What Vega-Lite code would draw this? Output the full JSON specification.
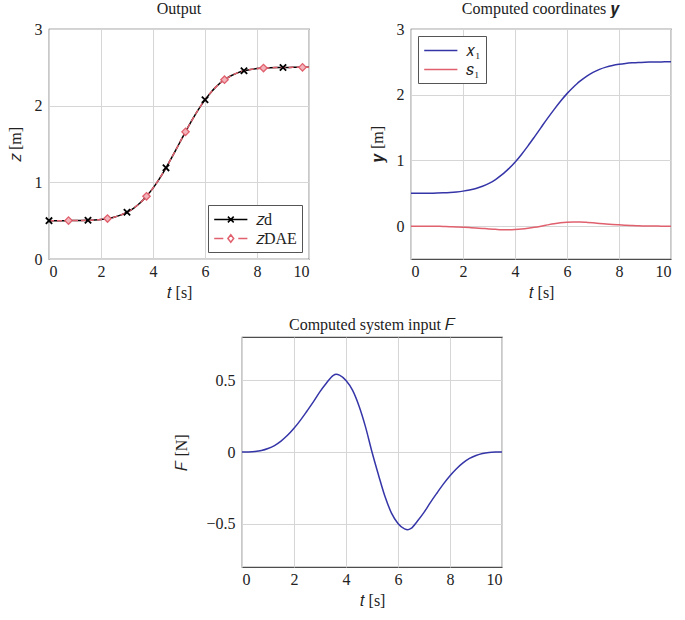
{
  "$schema": "https://vega.github.io/schema/vega-lite/v6.json",
  "padding": {"left": 6, "top": 0, "right": 5, "bottom": 3},
  "background": "white",
  "config": {
    "font": "Liberation Serif",
    "view": {"stroke": "#4d4d4d", "strokeWidth": 1.2},
    "axis": {
      "domain": false, "ticks": false, "grid": true, "gridColor": "#d6d6d6", "gridWidth": 1,
      "labelFont": "Liberation Serif", "labelFontSize": 16, "labelColor": "#222",
      "titleFont": "Liberation Serif", "titleFontSize": 16, "titleFontWeight": "normal", "titleColor": "#222"
    },
    "axisX": {"labelPadding": 4, "titlePadding": 5},
    "axisY": {"labelPadding": 7, "titlePadding": 11},
    "title": {"font": "Liberation Serif", "fontSize": 16, "fontWeight": "normal", "color": "#222", "offset": 4},
    "legend": {"labelFont": "Liberation Serif", "labelFontSize": 16, "labelColor": "#222"}
  },
  "datasets": {
    "curves": [
      {"t": 0, "zd": 0.5, "zdae": 0.5, "x1": 0.5, "s1": 0, "F": 0},
      {"t": 0.25, "zd": 0.5, "zdae": 0.5, "x1": 0.5, "s1": 0, "F": 0.0005},
      {"t": 0.5, "zd": 0.5003, "zdae": 0.5003, "x1": 0.5006, "s1": -0.0003, "F": 0.003},
      {"t": 0.75, "zd": 0.5007, "zdae": 0.5007, "x1": 0.5017, "s1": -0.001, "F": 0.01},
      {"t": 1, "zd": 0.5014, "zdae": 0.5014, "x1": 0.5038, "s1": -0.0024, "F": 0.024},
      {"t": 1.25, "zd": 0.5027, "zdae": 0.5027, "x1": 0.5072, "s1": -0.0045, "F": 0.045},
      {"t": 1.5, "zd": 0.5051, "zdae": 0.5051, "x1": 0.5127, "s1": -0.0076, "F": 0.076},
      {"t": 1.75, "zd": 0.5093, "zdae": 0.5093, "x1": 0.5209, "s1": -0.0116, "F": 0.116},
      {"t": 2, "zd": 0.5164, "zdae": 0.5164, "x1": 0.5329, "s1": -0.0165, "F": 0.165},
      {"t": 2.25, "zd": 0.5278, "zdae": 0.5278, "x1": 0.55, "s1": -0.0222, "F": 0.222},
      {"t": 2.5, "zd": 0.5455, "zdae": 0.5455, "x1": 0.574, "s1": -0.0285, "F": 0.285},
      {"t": 2.75, "zd": 0.5718, "zdae": 0.5718, "x1": 0.6068, "s1": -0.035, "F": 0.35},
      {"t": 3, "zd": 0.6096, "zdae": 0.6096, "x1": 0.6516, "s1": -0.042, "F": 0.42},
      {"t": 3.25, "zd": 0.6616, "zdae": 0.6616, "x1": 0.7096, "s1": -0.048, "F": 0.48},
      {"t": 3.5, "zd": 0.7302, "zdae": 0.7302, "x1": 0.7834, "s1": -0.0532, "F": 0.532},
      {"t": 3.625, "zd": 0.7714, "zdae": 0.7714, "x1": 0.8255, "s1": -0.0541, "F": 0.541},
      {"t": 3.75, "zd": 0.8174, "zdae": 0.8174, "x1": 0.8709, "s1": -0.0535, "F": 0.535},
      {"t": 4, "zd": 0.9238, "zdae": 0.9238, "x1": 0.9735, "s1": -0.0497, "F": 0.497},
      {"t": 4.25, "zd": 1.0486, "zdae": 1.0486, "x1": 1.0916, "s1": -0.043, "F": 0.43},
      {"t": 4.5, "zd": 1.1892, "zdae": 1.1892, "x1": 1.2212, "s1": -0.032, "F": 0.32},
      {"t": 4.75, "zd": 1.3414, "zdae": 1.3414, "x1": 1.3589, "s1": -0.0175, "F": 0.175},
      {"t": 5, "zd": 1.5, "zdae": 1.5, "x1": 1.5, "s1": 0, "F": 0},
      {"t": 5.25, "zd": 1.6586, "zdae": 1.6586, "x1": 1.6396, "s1": 0.0192, "F": -0.16},
      {"t": 5.5, "zd": 1.8108, "zdae": 1.8108, "x1": 1.7736, "s1": 0.0372, "F": -0.31},
      {"t": 5.75, "zd": 1.9514, "zdae": 1.9514, "x1": 1.9004, "s1": 0.051, "F": -0.425},
      {"t": 6, "zd": 2.0762, "zdae": 2.0762, "x1": 2.0166, "s1": 0.0596, "F": -0.497},
      {"t": 6.25, "zd": 2.1826, "zdae": 2.1826, "x1": 2.1184, "s1": 0.0642, "F": -0.535},
      {"t": 6.375, "zd": 2.2286, "zdae": 2.2286, "x1": 2.1637, "s1": 0.0649, "F": -0.541},
      {"t": 6.5, "zd": 2.2698, "zdae": 2.2698, "x1": 2.206, "s1": 0.0638, "F": -0.532},
      {"t": 6.75, "zd": 2.3384, "zdae": 2.3384, "x1": 2.2808, "s1": 0.0576, "F": -0.48},
      {"t": 7, "zd": 2.3904, "zdae": 2.3904, "x1": 2.34, "s1": 0.0504, "F": -0.42},
      {"t": 7.25, "zd": 2.4282, "zdae": 2.4282, "x1": 2.3862, "s1": 0.042, "F": -0.35},
      {"t": 7.5, "zd": 2.4545, "zdae": 2.4545, "x1": 2.4203, "s1": 0.0342, "F": -0.285},
      {"t": 7.75, "zd": 2.4722, "zdae": 2.4722, "x1": 2.4456, "s1": 0.0266, "F": -0.222},
      {"t": 8, "zd": 2.4836, "zdae": 2.4836, "x1": 2.4638, "s1": 0.0198, "F": -0.165},
      {"t": 8.25, "zd": 2.4907, "zdae": 2.4907, "x1": 2.4768, "s1": 0.0139, "F": -0.116},
      {"t": 8.5, "zd": 2.4949, "zdae": 2.4949, "x1": 2.4858, "s1": 0.0091, "F": -0.076},
      {"t": 8.75, "zd": 2.4974, "zdae": 2.4974, "x1": 2.492, "s1": 0.0054, "F": -0.045},
      {"t": 9, "zd": 2.4986, "zdae": 2.4986, "x1": 2.4957, "s1": 0.0029, "F": -0.024},
      {"t": 9.25, "zd": 2.4993, "zdae": 2.4993, "x1": 2.4981, "s1": 0.0012, "F": -0.01},
      {"t": 9.5, "zd": 2.4997, "zdae": 2.4997, "x1": 2.4993, "s1": 0.0004, "F": -0.003},
      {"t": 9.75, "zd": 2.4999, "zdae": 2.4999, "x1": 2.4998, "s1": 0.0001, "F": -0.0005},
      {"t": 10, "zd": 2.5, "zdae": 2.5, "x1": 2.5, "s1": 0, "F": 0}
    ]
  },
  "vconcat": [
    {
      "hconcat": [
        {
          "width": 260, "height": 230,
          "title": "Output",
          "data": {"name": "curves"},
          "encoding": {
            "x": {"field": "t", "type": "quantitative", "scale": {"domain": [0, 10], "nice": false}, "axis": {"values": [0, 2, 4, 6, 8, 10], "title": "𝑡 [s]"}}
          },
          "layer": [
            {
              "mark": {"type": "line", "color": "#000000", "strokeWidth": 1.5, "interpolate": "monotone"},
              "encoding": {"y": {"field": "zd", "type": "quantitative", "scale": {"domain": [0, 3], "nice": false}, "axis": {"values": [0, 1, 2, 3], "title": "𝑧 [m]"}}}
            },
            {
              "mark": {"type": "line", "color": "#e0606e", "strokeWidth": 1.5, "strokeDash": [5, 3], "interpolate": "monotone"},
              "encoding": {"y": {"field": "zdae", "type": "quantitative", "axis": {"values": [0, 1, 2, 3], "title": "𝑧 [m]"}}}
            },
            {
              "transform": [{"filter": {"field": "t", "oneOf": [0, 1.5, 3, 4.5, 6, 7.5, 9]}}],
              "mark": {"type": "point", "shape": "M-1,-1L1,1M-1,1L1,-1", "size": 40, "filled": false, "stroke": "#000000", "strokeWidth": 1.8, "opacity": 1},
              "encoding": {"y": {"field": "zd", "type": "quantitative", "axis": {"values": [0, 1, 2, 3], "title": "𝑧 [m]"}}}
            },
            {
              "transform": [{"filter": {"field": "t", "oneOf": [0.75, 2.25, 3.75, 5.25, 6.75, 8.25, 9.75]}}],
              "mark": {"type": "point", "shape": "diamond", "size": 55, "filled": true, "fill": "#f2b3ba", "stroke": "#e0606e", "strokeWidth": 1.3, "opacity": 1},
              "encoding": {"y": {"field": "zdae", "type": "quantitative", "axis": {"values": [0, 1, 2, 3], "title": "𝑧 [m]"}}}
            },
            {
              "transform": [{"filter": {"field": "t", "equal": 5}}, {"fold": ["zd", "zdae"], "as": ["series", "value"]}],
              "mark": {"type": "point", "opacity": 0, "filled": false, "strokeWidth": 1.5},
              "encoding": {
                "y": {"field": "value", "type": "quantitative", "axis": {"values": [0, 1, 2, 3], "title": "𝑧 [m]"}},
                "color": {
                  "field": "series", "type": "nominal",
                  "scale": {"domain": ["zd", "zdae"], "range": ["#000000", "#e0606e"]},
                  "legend": {"title": null, "orient": "bottom-right", "offset": 7, "strokeColor": "#555555", "fillColor": "white", "padding": 5, "cornerRadius": 0, "symbolSize": 275, "symbolStrokeWidth": 1.5, "symbolOpacity": 1, "rowPadding": 1, "labelOffset": 24, "labelExpr": "datum.label == 'zd' ? '𝑧d' : '𝑧DAE'"}
                },
                "shape": {
                  "field": "series", "type": "nominal",
                  "scale": {"domain": ["zd", "zdae"], "range": ["M-1,0H3M0.65,-0.35L1.35,0.35M0.65,0.35L1.35,-0.35", "M-1,0H0.1M1.9,0H3M1,-0.45L1.35,0L1,0.45L0.65,0Z"]},
                  "legend": {"title": null, "orient": "bottom-right", "offset": 7, "strokeColor": "#555555", "fillColor": "white", "padding": 5, "cornerRadius": 0, "symbolSize": 275, "symbolStrokeWidth": 1.5, "symbolOpacity": 1, "rowPadding": 1, "labelOffset": 24, "labelExpr": "datum.label == 'zd' ? '𝑧d' : '𝑧DAE'"}
                }
              }
            }
          ]
        },
        {
          "width": 260, "height": 230,
          "title": "Computed coordinates 𝒚",
          "data": {"name": "curves"},
          "transform": [{"fold": ["x1", "s1"], "as": ["series", "value"]}],
          "mark": {"type": "line", "strokeWidth": 1.5, "interpolate": "monotone"},
          "encoding": {
            "x": {"field": "t", "type": "quantitative", "scale": {"domain": [0, 10], "nice": false}, "axis": {"values": [0, 2, 4, 6, 8, 10], "title": "𝑡 [s]"}},
            "y": {"field": "value", "type": "quantitative", "scale": {"domain": [-0.5, 3], "nice": false, "zero": false}, "axis": {"values": [0, 1, 2, 3], "title": "𝒚 [m]"}},
            "color": {
              "field": "series", "type": "nominal",
              "scale": {"domain": ["x1", "s1"], "range": ["#3535a8", "#e0606e"]},
              "legend": {"title": null, "orient": "top-left", "offset": 7, "strokeColor": "#555555", "fillColor": "white", "padding": 5, "cornerRadius": 0, "symbolType": "M-1,0H3", "symbolSize": 275, "symbolStrokeWidth": 1.5, "rowPadding": 1, "labelOffset": 24, "labelExpr": "datum.label == 'x1' ? '𝑥₁' : '𝑠₁'"}
            }
          }
        }
      ],
      "spacing": 55,
      "resolve": {"scale": {"color": "independent", "shape": "independent"}, "legend": {"color": "independent", "shape": "independent"}}
    },
    {
      "hconcat": [
        {
          "width": 124, "height": 10,
          "data": {"values": [{}]},
          "mark": {"type": "point", "opacity": 0},
          "view": {"stroke": null}
        },
        {
          "width": 260, "height": 230,
          "title": "Computed system input 𝐹",
          "data": {"name": "curves"},
          "mark": {"type": "line", "strokeWidth": 1.5, "color": "#3535a8", "interpolate": "monotone"},
          "encoding": {
            "x": {"field": "t", "type": "quantitative", "scale": {"domain": [0, 10], "nice": false}, "axis": {"values": [0, 2, 4, 6, 8, 10], "title": "𝑡 [s]"}},
            "y": {"field": "F", "type": "quantitative", "scale": {"domain": [-0.8, 0.8], "nice": false}, "axis": {"values": [-0.5, 0, 0.5], "format": "~g", "title": "𝐹 [N]", "titlePadding": 16}}
          }
        }
      ],
      "spacing": 0
    }
  ],
  "spacing": 15,
  "resolve": {"scale": {"color": "independent", "shape": "independent"}, "legend": {"color": "independent", "shape": "independent"}}
}
